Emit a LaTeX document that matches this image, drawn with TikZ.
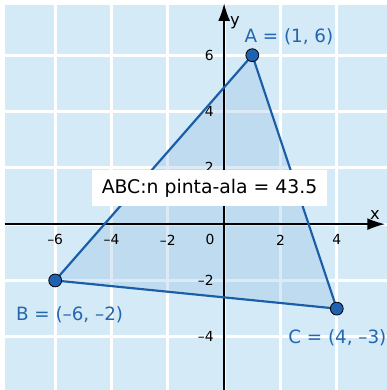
\documentclass[tikz,border=0pt]{standalone}
\usepackage{fontspec}
\setmainfont{DejaVu Sans}
\usepackage{xcolor}
\usepackage{tikz}
\usetikzlibrary{arrows.meta,positioning}
\definecolor{paper}{HTML}{D4EAF7}
\definecolor{trifill}{HTML}{91BBE0}
\definecolor{triline}{HTML}{1A5EA8}
\definecolor{ptblue}{HTML}{1F62B0}
\definecolor{lblblue}{HTML}{2466B0}

\begin{document}
\begin{tikzpicture}[x=1cm,y=1cm,>={Latex[length=18pt,width=12pt]},
 tick/.style={font=\fontsize{14}{16}\selectfont,inner sep=1pt},
 axlbl/.style={font=\fontsize{16.5}{18}\selectfont,inner sep=0pt},
 pt/.style={circle,draw=black,line width=0.8pt,fill=ptblue,inner sep=0pt,minimum size=13pt},
 lbl/.style={text=lblblue,font=\fontsize{18.5}{20}\selectfont,inner sep=0pt}]
 \useasboundingbox (-7.96,-5.89) rectangle (5.78,7.96);
 \fill[white] (-7.96,-5.89) rectangle (5.78,7.96);
 \fill[paper] (-7.8,-5.89) rectangle (5.78,7.8);
 \draw[white,line width=3pt,step=2] (-8,-6) grid (6,8);
 % triangle corners
 \coordinate (A) at (1,6);
 \coordinate (B) at (-6,-2);
 \coordinate (C) at (4,-3);
 \fill[trifill,opacity=0.3] (A) -- (B) -- (C) -- cycle;
 % axes
 \coordinate (xl) at (-7.8,0); \coordinate (xr) at (5.72,0);
 \coordinate (yb) at (0,-5.89); \coordinate (yt) at (0,7.85);
 \draw[->,line width=1.8pt] (xl) -- (xr);
 \draw[->,line width=1.8pt] (yb) -- (yt);
 \node[axlbl] (xn) at (5.36,0.33) {x};
 \node[axlbl] (yn) at (0.38,7.15) {y};
 \foreach \v/\t in {-6/–6,-4/–4,-2/–2,2/2,4/4}
  \node[tick] (tx\v) at (\v,-0.56) {\t};
 \node[tick] (t0) at (-0.5,-0.56) {0};
 \foreach \v/\t in {6/6,4/4,2/2,-2/–2,-4/–4}
  \node[tick,anchor=east] (ty\v) at (-0.33,\v) {\t};
 \draw[triline,line width=2.2pt,line join=round] (A) -- (B) -- (C) -- cycle;
 \node[fill=white,minimum width=8.32cm,minimum height=1.28cm,inner sep=0pt,font=\fontsize{19}{21}\selectfont] (area) at (-0.52,1.28) {ABC:n pinta-ala = 43.5};
 \node[pt] (pA) at (A) {};
 \node[pt] (pB) at (B) {};
 \node[pt] (pC) at (C) {};
 \node[lbl] (lA) at (2.30,6.65) {A = (1, 6)};
 \node[lbl] (lB) at (-5.49,-3.23) {B = (–6, –2)};
 \node[lbl] (lC) at (4.02,-4.05) {C = (4, –3)};
\end{tikzpicture}
\end{document}
